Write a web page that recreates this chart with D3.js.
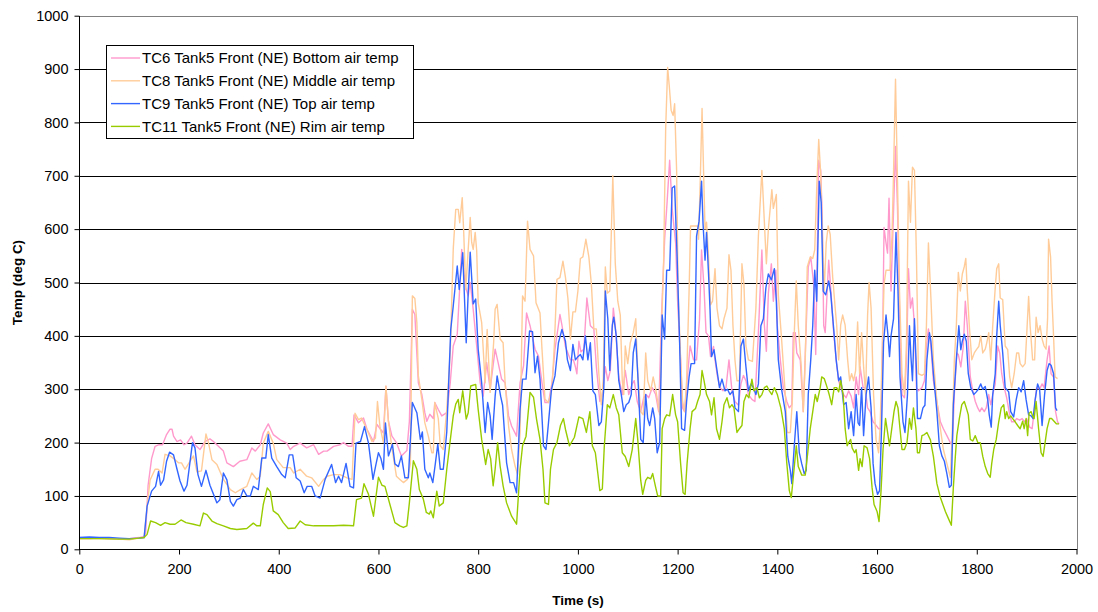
<!DOCTYPE html>
<html>
<head>
<meta charset="utf-8">
<script src="https://cdn.jsdelivr.net/npm/d3@7"></script>
<style>
  html, body { margin: 0; padding: 0; background: #fff; }
  svg { display: block; font-family: "Liberation Sans", Arial, sans-serif; }
</style>
</head>
<body>
<svg id="chart" width="1098" height="612"></svg>
<script>
// ---------------- DATA ----------------
const xTicks = [0, 200, 400, 600, 800, 1000, 1200, 1400, 1600, 1800, 2000];
const yTicks = [0, 100, 200, 300, 400, 500, 600, 700, 800, 900, 1000];
const seriesNames = [
  "TC6 Tank5 Front (NE) Bottom air temp",
  "TC8 Tank5 Front (NE) Middle air temp",
  "TC9 Tank5 Front (NE) Top air temp",
  "TC11 Tank5 Front (NE) Rim air temp"
];
const seriesColors = ["#FF99CC", "#FFCC99", "#3366FF", "#99CC00"];

// TC6 (time s, temp C)
const tc6Time = [0,20,40,60,80,100,120,130,133,138,145,152,160,167,175,182,186,189,196,203,210,216,225,232,242,252,262,269,279,289,296,309,322,336,346,353,363,369,379,389,403,416,423,430,443,456,470,480,490,497,510,523,530,540,547,551,560,570,577,590,597,604,610,615,620,627,636,646,657,662,668,673,680,687,693,697,703,710,713,720,727,737,744,750,758,767,774,780,784,790,797,804,810,817,824,834,840,847,854,861,867,877,884,891,897,904,914,921,928,934,941,948,954,964,968,975,985,991,995,998,1002,1006,1012,1018,1025,1032,1037,1044,1049,1055,1060,1065,1071,1075,1082,1089,1095,1102,1109,1113,1119,1126,1132,1137,1142,1149,1156,1162,1168,1174,1179,1184,1189,1196,1200,1206,1210,1214,1219,1225,1232,1238,1244,1248,1253,1257,1262,1266,1272,1275,1280,1285,1291,1297,1303,1309,1315,1322,1327,1332,1337,1342,1349,1355,1362,1369,1374,1378,1382,1388,1392,1397,1400,1406,1412,1419,1424,1429,1432,1436,1439,1446,1452,1458,1462,1467,1473,1477,1483,1487,1490,1493,1496,1499,1503,1507,1513,1518,1523,1527,1533,1538,1543,1548,1553,1558,1563,1566,1572,1576,1581,1586,1592,1596,1603,1608,1612,1614,1618,1621,1624,1628,1633,1637,1641,1645,1650,1655,1659,1663,1667,1671,1675,1679,1683,1690,1695,1699,1703,1708,1713,1720,1727,1733,1740,1747,1751,1755,1760,1763,1768,1773,1777,1781,1787,1792,1797,1802,1806,1810,1815,1819,1824,1828,1832,1837,1842,1846,1850,1855,1860,1866,1870,1875,1880,1886,1891,1896,1900,1906,1911,1915,1920,1926,1931,1935,1941,1945,1949,1954,1958,1962,1965];
const tc6Temp = [20,20,21,20,19,20,22,24,30,120,170,193,196,196,215,225,225,212,202,205,196,199,212,196,187,202,207,202,193,184,162,155,165,168,190,184,196,218,235,215,205,199,187,193,199,190,196,178,184,184,193,196,200,193,193,252,237,246,225,202,234,225,218,305,240,212,200,175,185,240,450,440,312,290,256,240,253,245,275,262,250,256,312,381,403,562,494,475,500,450,381,312,287,350,300,375,350,319,312,250,231,212,312,344,443,419,375,362,312,275,275,312,375,440,420,380,355,355,342,329,390,370,375,471,419,413,342,277,290,342,316,335,452,419,323,290,335,290,310,316,277,258,284,290,284,303,290,258,445,581,652,729,639,574,465,355,265,258,316,381,355,355,432,561,490,406,400,361,380,355,323,303,297,303,355,297,277,270,310,326,316,290,281,277,406,561,420,371,480,535,465,523,419,355,303,277,265,271,406,406,368,355,258,419,529,548,497,365,729,710,626,419,406,465,542,490,406,355,316,303,290,284,297,287,265,323,290,342,303,303,265,258,239,235,226,226,452,603,574,555,658,484,632,755,639,452,290,284,355,526,452,471,419,303,297,303,316,381,413,381,316,277,239,226,213,200,194,290,368,365,342,380,465,419,323,297,277,265,258,265,258,265,290,271,290,310,381,368,329,303,284,252,239,239,245,242,245,239,245,229,226,258,303,300,310,303,355,381,329,323,258,239,235];

// TC8
const tc8Time = [0,40,80,100,120,130,136,142,152,158,166,172,182,192,199,205,212,222,229,236,245,254,259,266,276,289,303,313,323,336,346,356,363,369,379,389,396,409,423,430,443,456,466,480,490,497,510,523,537,547,553,560,566,577,587,594,598,603,610,615,620,627,636,643,650,658,664,668,673,677,680,687,693,700,707,710,713,720,724,730,737,744,750,755,760,763,768,771,775,780,784,787,790,794,797,800,807,814,818,824,831,834,838,844,850,854,861,867,874,879,884,889,894,899,904,911,916,924,928,934,941,948,953,958,964,970,975,980,985,990,995,1000,1005,1010,1016,1022,1027,1032,1037,1042,1047,1051,1055,1059,1064,1070,1075,1080,1085,1089,1092,1095,1100,1105,1111,1116,1120,1126,1131,1136,1140,1146,1151,1156,1160,1164,1168,1172,1176,1180,1183,1187,1191,1194,1198,1201,1206,1210,1214,1218,1223,1226,1230,1235,1240,1242,1245,1249,1252,1255,1258,1262,1266,1270,1275,1279,1284,1289,1293,1299,1303,1307,1311,1315,1319,1324,1329,1333,1337,1342,1350,1357,1362,1369,1374,1378,1382,1389,1392,1398,1402,1409,1416,1420,1426,1430,1434,1438,1442,1448,1452,1456,1460,1466,1471,1475,1479,1483,1487,1490,1494,1498,1502,1506,1511,1516,1519,1523,1527,1531,1536,1541,1545,1549,1553,1557,1561,1565,1569,1573,1577,1581,1584,1588,1593,1598,1603,1606,1610,1614,1618,1623,1626,1630,1633,1637,1641,1645,1650,1655,1659,1663,1667,1671,1675,1679,1683,1690,1695,1699,1703,1708,1713,1720,1727,1733,1740,1747,1751,1755,1759,1763,1767,1771,1775,1778,1781,1785,1790,1795,1800,1804,1808,1812,1817,1820,1824,1828,1832,1837,1840,1844,1847,1852,1857,1862,1866,1870,1875,1880,1884,1887,1892,1897,1900,1904,1907,1912,1916,1919,1923,1927,1931,1935,1939,1942,1944,1948,1951,1954,1957,1962];
const tc8Temp = [20,20,19,18,21,22,80,130,150,150,143,178,175,168,162,162,150,165,175,145,147,216,200,168,159,131,112,106,112,118,143,131,137,199,221,199,168,153,153,143,150,137,134,118,131,137,140,140,134,131,255,243,246,224,202,208,277,230,200,306,240,190,137,131,125,131,160,475,470,425,325,281,237,212,181,181,275,245,194,187,262,369,563,637,637,612,659,594,487,562,622,575,562,594,560,462,425,312,412,294,387,450,459,394,387,312,231,187,156,140,219,475,465,615,562,550,462,443,375,281,275,300,387,506,509,540,510,470,394,445,445,484,545,548,581,548,497,413,413,329,271,320,529,480,484,700,535,465,439,316,290,381,348,387,406,432,329,258,252,368,316,297,323,300,277,252,419,542,787,903,871,823,813,835,710,484,355,277,258,316,484,606,606,606,606,581,677,826,710,600,613,548,458,465,526,452,419,413,432,452,552,523,419,355,316,316,535,497,381,355,352,452,587,710,613,535,600,674,639,665,477,387,290,219,219,277,406,503,419,342,258,355,529,548,545,561,677,768,703,600,484,574,606,590,510,452,420,355,420,439,420,355,316,329,316,335,426,329,406,342,290,439,500,452,290,206,181,226,355,497,523,523,523,587,703,881,690,484,329,290,387,690,613,716,710,548,329,326,329,419,574,471,355,277,226,187,161,135,226,355,419,519,484,516,530,545,484,419,355,368,375,380,400,368,375,387,406,355,419,490,526,535,471,468,381,374,323,303,329,368,368,348,342,348,400,474,419,355,355,435,406,419,394,381,375,432,581,548,465,400,323,320];

// TC9
const tc9Time = [0,20,40,60,80,100,120,130,136,145,153,159,163,169,175,181,189,196,202,210,216,227,232,238,245,254,262,276,282,289,296,303,309,316,323,329,336,343,349,359,366,374,379,386,396,406,413,421,428,435,443,451,457,466,473,483,493,506,514,520,526,535,543,550,555,564,572,580,589,595,600,605,610,614,620,628,633,640,646,653,660,668,677,684,688,693,700,703,709,714,719,724,730,737,745,750,758,762,769,776,780,784,790,795,800,807,814,819,824,828,834,838,845,849,857,864,871,877,884,889,896,903,909,914,919,924,931,936,941,947,954,961,968,975,979,985,990,995,1000,1005,1010,1015,1020,1025,1030,1035,1042,1047,1052,1055,1060,1064,1069,1072,1077,1082,1087,1092,1097,1102,1107,1111,1116,1120,1126,1131,1136,1140,1144,1150,1154,1159,1164,1169,1174,1178,1184,1189,1194,1199,1204,1208,1214,1218,1223,1227,1234,1238,1243,1248,1251,1255,1258,1262,1265,1268,1273,1279,1284,1289,1295,1300,1305,1311,1315,1322,1327,1332,1337,1342,1347,1352,1357,1362,1367,1372,1377,1382,1388,1394,1398,1402,1409,1416,1421,1426,1429,1434,1439,1444,1449,1454,1458,1462,1467,1471,1475,1479,1484,1488,1492,1497,1503,1507,1513,1518,1523,1527,1533,1538,1543,1548,1553,1558,1562,1565,1569,1573,1578,1583,1588,1592,1596,1601,1605,1609,1613,1618,1622,1625,1628,1633,1638,1642,1646,1652,1656,1661,1665,1668,1671,1675,1679,1681,1687,1692,1696,1700,1705,1708,1713,1720,1725,1730,1735,1740,1745,1749,1753,1759,1764,1768,1771,1775,1779,1783,1788,1794,1799,1803,1808,1812,1817,1822,1825,1829,1832,1837,1840,1844,1847,1852,1857,1864,1868,1874,1879,1884,1889,1894,1899,1904,1909,1913,1917,1922,1926,1931,1936,1941,1945,1949,1954,1958,1961];
const tc9Temp = [22,23,22,22,21,20,21,22,81,109,118,146,120,130,165,182,177,150,128,109,120,200,190,140,118,148,120,87,93,143,130,90,81,93,96,112,100,100,118,112,171,171,215,171,155,140,134,177,177,134,128,106,118,118,100,96,131,159,125,137,125,161,118,115,199,202,230,199,131,159,181,170,150,237,175,197,160,155,175,134,134,275,256,206,220,150,134,143,125,160,197,150,150,220,412,456,531,487,556,387,481,557,460,469,375,312,219,275,250,206,287,325,287,270,162,125,125,106,262,319,319,409,408,331,362,319,194,187,237,300,325,387,412,390,355,335,384,355,361,365,355,400,355,387,297,290,232,239,303,484,432,335,420,435,400,316,290,258,271,275,290,368,394,330,206,200,290,245,232,265,245,181,200,439,394,523,523,677,681,548,387,226,223,277,323,348,348,587,615,690,610,542,594,516,450,361,374,335,303,319,297,300,290,297,265,258,381,394,342,297,310,303,290,310,419,432,490,516,505,526,465,355,297,258,174,148,123,194,258,181,160,142,148,290,355,419,523,465,690,650,484,477,503,480,413,355,316,323,271,275,226,258,213,290,237,232,303,213,290,323,265,161,123,103,110,226,387,439,400,361,400,432,594,484,323,239,219,290,419,360,316,432,335,245,245,265,270,355,406,390,329,258,194,175,165,142,116,120,271,355,419,374,390,403,390,329,303,290,295,300,310,300,305,280,252,229,290,329,400,465,420,368,303,295,258,248,280,303,295,316,280,252,250,245,280,310,300,232,290,335,348,345,329,265,260];

// TC11
const tc11Time = [0,40,80,100,120,130,136,143,153,163,172,182,192,204,214,229,242,249,256,266,276,289,303,316,336,349,356,363,369,377,383,389,399,409,419,433,443,453,470,490,510,530,550,556,566,571,580,590,600,607,613,623,633,643,650,657,662,670,677,682,690,696,702,705,710,717,722,730,737,745,750,755,760,763,769,776,780,785,795,800,807,815,820,825,830,834,839,844,850,857,867,877,884,889,896,904,911,917,924,930,934,941,945,951,958,965,971,975,983,993,1002,1010,1017,1024,1029,1035,1040,1044,1049,1053,1059,1064,1071,1077,1082,1089,1095,1102,1109,1116,1120,1126,1130,1136,1140,1146,1150,1156,1160,1166,1169,1174,1178,1184,1190,1196,1200,1206,1211,1215,1219,1225,1229,1236,1240,1245,1249,1253,1258,1264,1268,1273,1278,1284,1289,1293,1299,1304,1309,1313,1319,1324,1329,1333,1338,1343,1349,1353,1359,1364,1369,1374,1379,1384,1389,1394,1400,1407,1414,1419,1424,1428,1432,1438,1442,1449,1456,1461,1466,1471,1476,1480,1486,1489,1494,1500,1504,1509,1514,1519,1523,1527,1532,1536,1540,1543,1547,1550,1555,1558,1563,1566,1570,1574,1580,1585,1590,1594,1600,1604,1608,1612,1617,1621,1625,1630,1634,1638,1642,1646,1650,1655,1660,1665,1669,1673,1678,1681,1685,1690,1695,1700,1707,1713,1720,1727,1732,1737,1743,1749,1753,1757,1760,1765,1770,1775,1779,1783,1787,1792,1797,1802,1807,1812,1817,1822,1827,1830,1834,1839,1844,1849,1854,1857,1860,1864,1868,1872,1877,1882,1887,1892,1895,1899,1902,1905,1909,1912,1915,1919,1924,1929,1933,1937,1941,1946,1950,1955,1960,1965];
const tc11Temp = [20,20,19,19,21,22,28,53,50,45,50,47,47,55,50,47,44,68,65,53,48,44,39,37,39,49,44,44,84,115,108,72,65,50,39,40,53,46,44,44,44,45,44,93,96,123,103,62,135,120,118,84,50,44,41,44,87,166,150,112,94,69,66,72,59,109,81,87,150,212,250,272,281,256,297,244,256,306,309,262,206,159,187,170,119,150,200,156,119,87,62,47,150,194,212,294,285,244,206,150,87,84,150,187,200,232,245,225,194,210,248,245,219,258,194,181,142,110,113,194,271,265,290,265,252,181,174,155,187,245,206,129,103,129,135,132,142,116,100,100,226,245,252,250,290,252,239,161,106,103,161,226,258,264,277,290,335,316,290,277,252,284,226,206,239,271,284,265,271,265,219,226,232,277,290,284,319,297,303,284,290,303,306,297,290,303,290,265,226,161,110,97,135,194,155,139,139,181,226,258,290,277,303,323,320,303,290,271,303,303,295,316,290,226,194,200,206,190,181,187,148,170,155,194,190,170,116,84,71,52,110,187,245,220,194,230,258,277,265,226,187,187,200,245,225,265,226,181,181,213,215,219,205,174,123,97,84,71,58,45,116,174,213,245,271,277,265,252,206,203,213,200,200,174,155,142,135,161,187,206,239,265,271,245,258,245,250,245,239,232,226,240,226,245,213,255,258,250,245,277,226,181,174,200,226,245,245,240,235,235];

// ---------------- CHART ----------------
const svg = d3.select("#chart");
const x = d3.scaleLinear().domain([0, 2000]).range([79.3, 1076.5]);
const y = d3.scaleLinear().domain([0, 1000]).range([549.3, 15.7]);

// gridlines
svg.append("g").selectAll("line").data(yTicks.filter(d => d > 0 && d < 1000)).join("line")
  .attr("x1", x(0)).attr("x2", x(2000))
  .attr("y1", d => Math.round(y(d)) + 0.5).attr("y2", d => Math.round(y(d)) + 0.5)
  .attr("stroke", "#000").attr("stroke-width", 1);

// plot border (gray)
svg.append("rect")
  .attr("x", Math.round(x(0)) + 0.5).attr("y", Math.round(y(1000)) + 0.5)
  .attr("width", Math.round(x(2000)) - Math.round(x(0)))
  .attr("height", Math.round(y(0)) - Math.round(y(1000)))
  .attr("fill", "none").attr("stroke", "#808080").attr("stroke-width", 1);

// series
const series = [
  {t: tc6Time, v: tc6Temp},
  {t: tc8Time, v: tc8Temp},
  {t: tc9Time, v: tc9Temp},
  {t: tc11Time, v: tc11Temp}
];
const line = d3.line().x(d => x(d[0])).y(d => y(d[1]));
series.forEach((s, i) => {
  const pts = s.t.map((t, k) => [t, s.v[k]]);
  svg.append("path").datum(pts)
    .attr("d", line)
    .attr("fill", "none")
    .attr("stroke", seriesColors[i])
    .attr("stroke-width", 1.4)
    .attr("stroke-linejoin", "round");
});

// axes
const yAxis = d3.axisLeft(y).tickValues(yTicks).tickSize(5).tickPadding(4).tickFormat(d3.format("d"));
const xAxis = d3.axisBottom(x).tickValues(xTicks).tickSize(5).tickPadding(9).tickFormat(d3.format("d"));

const gy = svg.append("g").attr("transform", `translate(${Math.round(x(0)) + 0.5},0)`).call(yAxis);
const gx = svg.append("g").attr("transform", `translate(0,${Math.round(y(0)) + 0.5})`).call(xAxis);
[gx, gy].forEach(g => {
  g.select(".domain").attr("stroke", "#000").attr("stroke-width", 1);
  g.selectAll(".tick line").attr("stroke", "#000");
  g.selectAll(".tick text").attr("fill", "#000")
    .style("font-family", '"Liberation Sans", Arial, sans-serif').style("font-size", "14.5px");
});
gy.selectAll(".tick text").attr("x", -11);
gy.select(".domain").attr("d", `M0,${Math.round(y(1000))}V${Math.round(y(0))}`);
gx.select(".domain").attr("d", `M${Math.round(x(0))},0H${Math.round(x(2000))}`);

// axis titles
svg.append("text")
  .attr("transform", `translate(22,${(y(0) + y(1000)) / 2}) rotate(-90)`)
  .attr("text-anchor", "middle")
  .style("font-size", "13.5px").style("font-weight", "bold")
  .text("Temp (deg C)");
svg.append("text")
  .attr("x", (x(0) + x(2000)) / 2).attr("y", 605)
  .attr("text-anchor", "middle")
  .style("font-size", "13.5px").style("font-weight", "bold")
  .text("Time (s)");

// legend
const lg = svg.append("g");
lg.append("rect").attr("x", 106.5).attr("y", 45.5).attr("width", 307).attr("height", 93)
  .attr("fill", "#fff").attr("stroke", "#000").attr("stroke-width", 1);
seriesNames.forEach((name, i) => {
  const cy = 58 + i * 22.8;
  lg.append("line").attr("x1", 111).attr("x2", 140).attr("y1", cy).attr("y2", cy)
    .attr("stroke", seriesColors[i]).attr("stroke-width", 1.4);
  lg.append("text").attr("x", 142).attr("y", cy + 5.2)
    .style("font-size", "15px").attr("fill", "#000").text(name);
});
</script>
</body>
</html>
